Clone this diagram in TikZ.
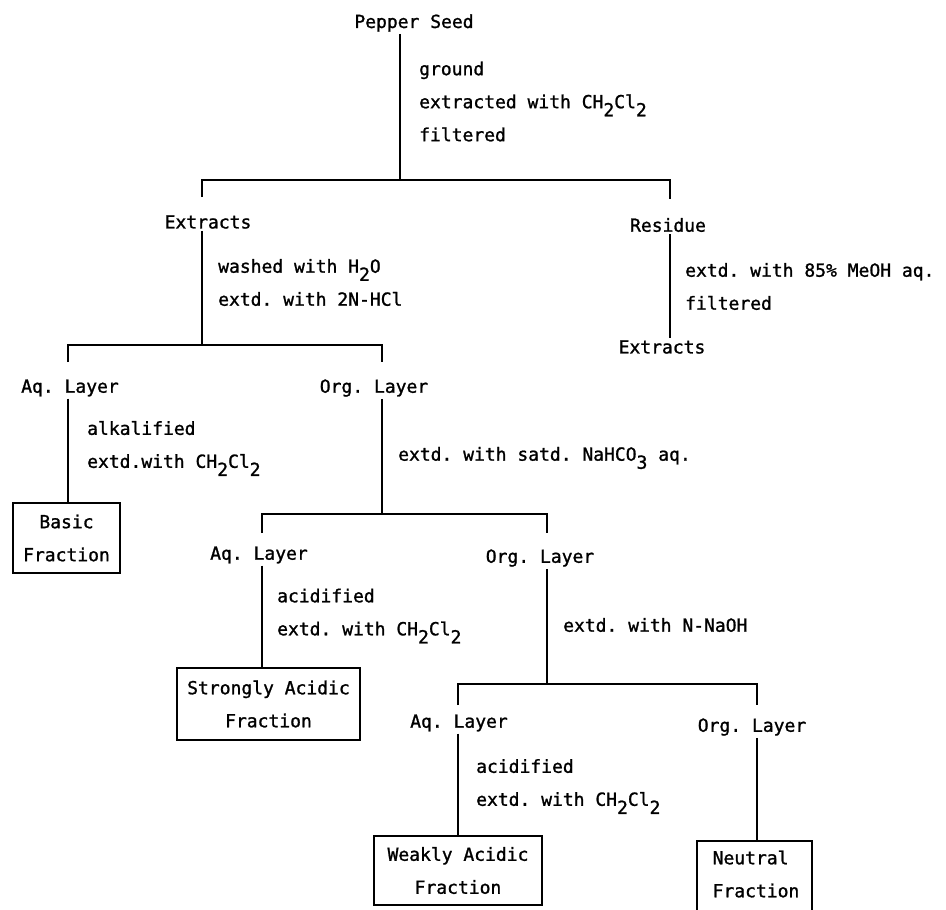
\documentclass[tikz,border=0pt]{standalone}
\usepackage{fontspec}
\setmainfont{DejaVu Sans Mono}[FakeBold=1.2]
\usetikzlibrary{calc}
\newcommand\subd[1]{\raisebox{-0.45em}{#1}}
\frenchspacing
\begin{document}
\frenchspacing
\begin{tikzpicture}[x=1pt,y=-1pt,
  every node/.style={font=\fontsize{18}{33}\selectfont\frenchspacing, inner sep=2pt},
  txt/.style={align=left, anchor=west, inner sep=0pt},
  conn/.style={line width=2.2pt},
  fracbox/.style={draw, line width=2.2pt, align=center, inner sep=0pt}]
\useasboundingbox (0,0) rectangle (946,910);

% level 0
\node (seed) at (414,23) {Pepper Seed};
\coordinate (j1) at (400,180);
\coordinate (b1l) at (202,180);
\coordinate (b1r) at (670,180);
\draw[conn] (seed.south -| j1) -- (j1);
\draw[conn] ($(b1l)+(0,17)$) -- (b1l) -- (b1r) -- ($(b1r)+(0,19)$);
\node[txt] (l1) at (419,101.5) {ground\\extracted with CH\subd2Cl\subd2\\filtered};

% level 1
\node (ext1) at (208,222) {Extracts};
\node (res) at (668,225) {Residue};
\node[txt] (l2) at (218,282.5) {washed with H\subd2O\\extd. with 2N-HCl};
\node[txt] (l3) at (685,286.5) {extd. with 85\% MeOH aq.\\filtered};
\node (ext2) at (662,347) {Extracts};
\draw[conn] (res.south -| b1r) -- (ext2.north -| b1r);
\coordinate (j2) at (202,345);
\coordinate (b2l) at (68,345);
\coordinate (b2r) at (382,345);
\draw[conn] (ext1.south -| j2) -- (j2);
\draw[conn] ($(b2l)+(0,17)$) -- (b2l) -- (b2r) -- ($(b2r)+(0,17)$);

% level 2
\node (aq1) at (70,388) {Aq. Layer};
\node (org1) at (374,388) {Org. Layer};
\node[txt] (l4) at (87,448.5) {alkalified\\extd.with CH\subd2Cl\subd2};
\node[fracbox, minimum width=107, minimum height=70] (basic) at (66.5,538) {Basic\\Fraction};
\draw[conn] (aq1.south -| b2l) -- (basic.north -| b2l);
\node[txt] (l5) at (398,458) {extd. with satd. NaHCO\subd3 aq.};
\coordinate (b3l) at (262,514);
\coordinate (b3r) at (547,514);
\draw[conn] (org1.south -| b2r) -- (b2r |- b3l);
\draw[conn] ($(b3l)+(0,19)$) -- (b3l) -- (b3r) -- ($(b3r)+(0,19)$);

% level 3
\node (aq2) at (259,555) {Aq. Layer};
\node (org2) at (540,558) {Org. Layer};
\node[txt] (l6) at (277,616) {acidified\\extd. with CH\subd2Cl\subd2};
\node[fracbox, minimum width=183, minimum height=72] (strong) at (268.5,704) {Strongly Acidic\\Fraction};
\draw[conn] (aq2.south -| b3l) -- (strong.north -| b3l);
\node[txt] (l7) at (563,625) {extd. with N-NaOH};
\coordinate (b4l) at (458,684);
\coordinate (b4r) at (757,684);
\draw[conn] (org2.south -| b3r) -- (b3r |- b4l);
\draw[conn] ($(b4l)+(0,21)$) -- (b4l) -- (b4r) -- ($(b4r)+(0,21)$);

% level 4
\node (aq3) at (459,723) {Aq. Layer};
\node (org3) at (752,727) {Org. Layer};
\node[txt] (l8) at (476,786.5) {acidified\\extd. with CH\subd2Cl\subd2};
\node[fracbox, minimum width=168, minimum height=69] (weak) at (458,870.5) {Weakly Acidic\\Fraction};
\draw[conn] (aq3.south -| b4l) -- (weak.north -| b4l);
\node[align=left, inner sep=0pt] (neut) at (756,874) {Neutral\\Fraction};
\coordinate (ntl) at (697,841);
\coordinate (ntr) at (812,841);
\draw[conn] (org3.south -| b4r) -- (b4r |- ntl);
\draw[conn] ($(ntl)+(0,75)$) -- (ntl) -- (ntr) -- ($(ntr)+(0,75)$);
\end{tikzpicture}
\end{document}
